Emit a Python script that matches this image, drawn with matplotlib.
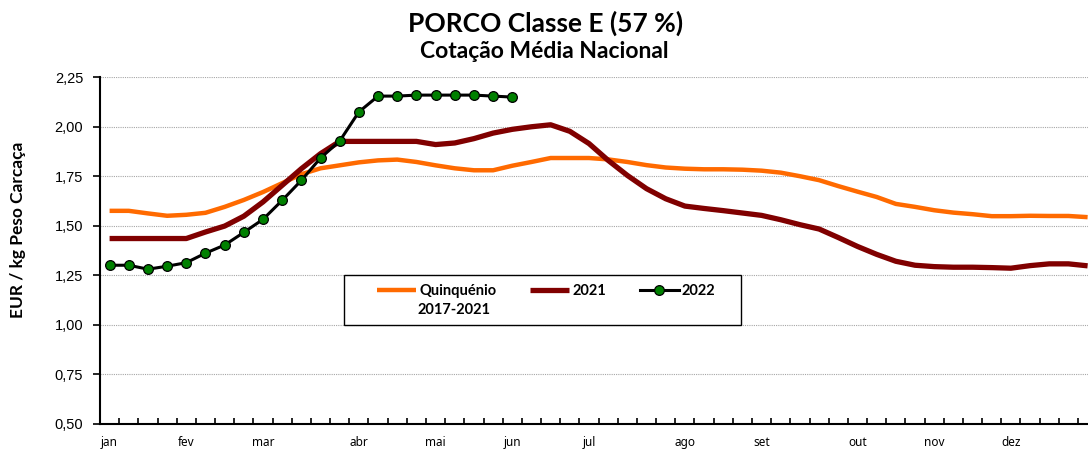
import matplotlib
matplotlib.use("Agg")
import matplotlib.pyplot as plt
from matplotlib.patches import Rectangle
import numpy as np

# ---- data ----
quinquenio = [1.575, 1.575, 1.562, 1.55, 1.555, 1.565, 1.595, 1.63, 1.67, 1.715,
              1.76, 1.79, 1.805, 1.82, 1.83, 1.834, 1.822, 1.805, 1.79, 1.78,
              1.78, 1.803, 1.822, 1.842, 1.842, 1.842, 1.835, 1.822, 1.806, 1.794,
              1.788, 1.785, 1.785, 1.783, 1.778, 1.768, 1.75, 1.73, 1.70, 1.672,
              1.645, 1.61, 1.595, 1.578, 1.566, 1.558, 1.548, 1.548, 1.55, 1.549,
              1.549, 1.543]
y2021 = [1.435, 1.435, 1.435, 1.435, 1.435, 1.468, 1.498, 1.548, 1.62, 1.704,
         1.788, 1.864, 1.926, 1.926, 1.926, 1.926, 1.926, 1.91, 1.918, 1.94,
         1.968, 1.987, 2.0, 2.01, 1.977, 1.915, 1.83, 1.754, 1.687, 1.636,
         1.599, 1.587, 1.576, 1.564, 1.552, 1.53, 1.505, 1.483, 1.44, 1.395,
         1.355, 1.32, 1.30, 1.293, 1.29, 1.29, 1.288, 1.285, 1.298, 1.307,
         1.307, 1.297]
y2022 = [1.30, 1.30, 1.28, 1.295, 1.313, 1.361, 1.402, 1.466, 1.532, 1.628,
         1.729, 1.842, 1.928, 2.075, 2.155, 2.155, 2.16, 2.16, 2.16, 2.16,
         2.155, 2.15]
months = ['jan', 'fev', 'mar', 'abr', 'mai', 'jun', 'jul', 'ago', 'set', 'out', 'nov', 'dez']
month_weeks = [0, 4, 8, 13, 17, 21, 25, 30, 34, 39, 43, 47]
yticks = [0.50, 0.75, 1.00, 1.25, 1.50, 1.75, 2.00, 2.25]
ytick_labels = ['0,50', '0,75', '1,00', '1,25', '1,50', '1,75', '2,00', '2,25']
series_names = ['Quinquénio', '2021', '2022']

W, H = 1088, 450
fig = plt.figure(figsize=(W / 100, H / 100), dpi=100)
ax = fig.add_axes([100 / W, (H - 423.5) / H, (W - 100) / W, (423.5 - 77.3) / H])

x_q = np.arange(len(quinquenio))
x_21 = np.arange(len(y2021))
x_22 = np.arange(len(y2022))

ax.plot(x_q, quinquenio, color='#FF6A00', lw=3.2, solid_capstyle='butt', zorder=3, label=series_names[0])
ax.plot(x_21, y2021, color='#800000', lw=3.8, solid_capstyle='butt', zorder=4, label=series_names[1])
ax.plot(x_22, y2022, color='black', lw=2.2, marker='o', markersize=7,
        markerfacecolor='#008000', markeredgecolor='black', markeredgewidth=0.9,
        zorder=5, label=series_names[2])

ax.set_xlim(-0.5, 51.02)
ax.set_ylim(0.5, 2.25)
ax.set_yticks(yticks)
ax.set_yticklabels(ytick_labels, fontsize=10.5, family='Liberation Sans')
ax.tick_params(axis='y', direction='out', length=5, width=1.2, pad=7)

ax.set_xticks(month_weeks)
ax.set_xticklabels(months, fontsize=8.5, family='Noto Sans')
ax.tick_params(axis='x', which='major', length=0, pad=9)
ax.set_xticks(np.arange(0.5, 51.5, 1.0), minor=True)
ax.tick_params(axis='x', which='minor', direction='in', length=4, width=1.2)

for v in yticks[1:]:
    ax.axhline(v, color='#A6A6A6', lw=0.8, ls=(0, (1, 1)), zorder=1)

for s in ['top', 'right']:
    ax.spines[s].set_visible(False)
for s in ['left', 'bottom']:
    ax.spines[s].set_linewidth(1.5)
    ax.spines[s].set_zorder(6)

# legend box
x0 = (344 - 100) / (W - 100)
x1 = (741 - 100) / (W - 100)
ax.add_patch(Rectangle((x0, (1.0 - 0.5) / 1.75), x1 - x0, 0.25 / 1.75,
                       transform=ax.transAxes, facecolor='white', edgecolor='black',
                       lw=1.0, zorder=7))
leg = ax.legend(loc='center left', bbox_to_anchor=((377 - 100) / (W - 100), (423.5 - 291) / 346.2),
                ncol=3, frameon=False, borderpad=0, borderaxespad=0,
                handlelength=2.7, handletextpad=0.2, columnspacing=2.3,
                prop={'family': 'Lato', 'weight': 'bold', 'size': 10.5})
leg.set_zorder(8)
ax.text((418 - 100) / (W - 100), (423.5 - 310) / 346.2, '2017-2021', transform=ax.transAxes,
        ha='left', va='center', fontsize=10.5, family='Lato', weight='bold', zorder=9)

fig.text(546 / W, 1 - 23 / H, 'PORCO Classe E (57 %)', ha='center', va='center',
         fontsize=19, family='Lato', weight='bold')
fig.text(544 / W, 1 - 51 / H, 'Cotação Média Nacional', ha='center', va='center',
         fontsize=16.5, family='Lato', weight='bold')
fig.text(18 / W, 1 - 230 / H, 'EUR / kg Peso Carcaça', ha='center', va='center',
         rotation=90, fontsize=12.5, family='Lato', weight='bold')

fig.savefig('out.png', dpi=100)
